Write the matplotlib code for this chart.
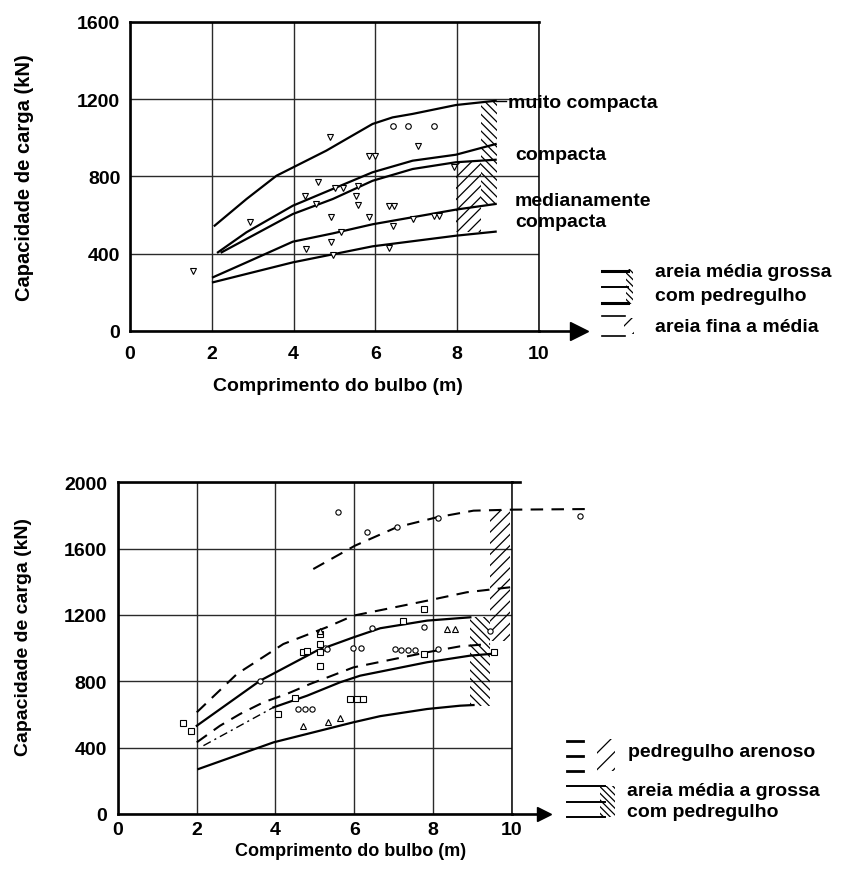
import matplotlib
matplotlib.use('Agg')
import matplotlib.pyplot as plt
from matplotlib.patches import Rectangle
from matplotlib.lines import Line2D
import numpy as np

plt.rcParams['font.family'] = ['Liberation Sans', 'DejaVu Sans']
plt.rcParams['font.weight'] = 'bold'
plt.rcParams['hatch.linewidth'] = 0.9
plt.rcParams['lines.scale_dashes'] = False

# ---------------- data: top chart ----------------
top_xticks = [0, 2, 4, 6, 8, 10]
top_yticks = [0, 400, 800, 1200, 1600]

muito_x = [2.07, 2.85, 3.58, 4.8, 5.29, 5.93, 6.42, 6.91, 7.97, 8.94]
muito_y = [545, 683, 803, 933, 993, 1071, 1105, 1123, 1169, 1191]
comp_x = [2.15, 2.85, 3.98, 4.96, 5.93, 6.91, 7.97, 8.94]
comp_y = [407, 511, 648, 735, 821, 881, 912, 967]
comp2_x = [2.24, 3.98, 4.96, 5.93, 6.91, 7.97, 8.94]
comp2_y = [407, 605, 683, 777, 838, 873, 886]
med_x = [2.03, 2.85, 3.98, 4.96, 5.93, 7.97, 8.94]
med_y = [278, 355, 462, 505, 552, 628, 657]
med2_x = [2.03, 3.98, 5.93, 7.97, 8.94]
med2_y = [252, 355, 438, 493, 514]

top_tri_x = [1.54, 2.93, 4.27, 4.31, 4.55, 4.59, 4.88, 4.92, 4.92, 4.96, 5.0, 5.2, 5.16,
             5.53, 5.57, 5.57, 5.85, 5.85, 6.0, 6.34, 6.34, 6.42, 6.46, 6.91, 7.03, 7.44, 7.56, 7.93]
top_tri_y = [312, 562, 700, 424, 657, 772, 1002, 588, 459, 393, 738, 738, 511,
             700, 752, 650, 588, 907, 907, 648, 428, 545, 648, 579, 959, 597, 597, 847]
top_circ_x = [6.42, 6.79, 7.44]
top_circ_y = [1062, 1062, 1062]

# hatched zones (x0, x1, y0, y1)
top_dense = (8.58, 8.98, 657, 1191)
top_sparse = (7.97, 8.58, 511, 873)

# ---------------- data: bottom chart ----------------
bot_xticks = [0, 2, 4, 6, 8, 10]
bot_yticks = [0, 400, 800, 1200, 1600, 2000]

F_x = [4.96, 6.02, 7.08, 8.1, 9.03, 10.0, 12.06]
F_y = [1477, 1618, 1729, 1789, 1829, 1835, 1839]
A_x = [2.0, 3.02, 4.2, 5.3, 5.98, 7.85, 8.86, 9.96]
A_y = [613, 844, 1025, 1126, 1196, 1286, 1337, 1367]
B_x = [2.0, 3.61, 5.05, 5.98, 6.66, 7.85, 8.95]
B_y = [532, 804, 985, 1065, 1120, 1166, 1186]
C_x = [2.0, 2.59, 3.1, 3.69, 4.29, 4.88, 5.39, 5.98, 7.85, 8.69, 9.45]
C_y = [432, 532, 603, 673, 724, 784, 830, 884, 975, 1011, 1025]
D_x = [2.17, 3.95, 4.8, 5.64, 6.15, 7.85, 8.95, 9.45]
D_y = [412, 643, 713, 794, 834, 915, 955, 965]
E_x = [2.04, 3.95, 5.98, 6.66, 7.85, 8.69, 9.03]
E_y = [271, 432, 553, 590, 633, 653, 657]

bot_circ_x = [3.61, 5.26, 5.98, 6.17, 6.45, 4.58, 4.75, 4.92, 5.6, 6.32, 7.08, 8.14, 11.74,
              7.76, 9.45, 7.04, 7.2, 7.37, 7.54, 8.14, 5.3]
bot_circ_y = [804, 999, 999, 999, 1120, 633, 633, 633, 1819, 1699, 1729, 1783, 1795,
              1126, 1105, 995, 991, 991, 991, 995, 995]
bot_sq_x = [1.66, 1.85, 5.13, 5.13, 5.13, 4.71, 5.13, 4.5, 4.07, 5.9, 6.07, 6.23, 7.76, 7.25,
            7.76, 9.54, 4.8]
bot_sq_y = [549, 502, 1085, 1025, 979, 979, 894, 698, 603, 693, 693, 693, 1236, 1166,
            965, 975, 985]
bot_tri_x = [5.13, 4.71, 5.34, 5.64, 8.35, 8.56]
bot_tri_y = [1105, 532, 557, 577, 1116, 1116]

bot_dense = (8.95, 9.45, 653, 1186)
bot_sparse = (9.45, 9.96, 1045, 1835)

# ---------------- figure ----------------
W, H = 847, 879
fig = plt.figure(figsize=(W / 100, H / 100), dpi=100)


def fx(px):
    return px / W


def fy(py):
    return 1 - py / H


def style(ax, xt, yt, xpad, ypad):
    ax.set_xlim(0, 10)
    ax.set_ylim(yt[0], yt[-1])
    ax.set_xticks(xt)
    ax.set_yticks(yt)
    ax.grid(True, color='#2a2a2a', lw=1.0)
    ax.set_axisbelow(True)
    for s in ['left', 'bottom', 'top']:
        ax.spines[s].set_linewidth(1.9)
    ax.spines['right'].set_linewidth(1.1)
    ax.tick_params(axis='x', length=0, labelsize=14, pad=xpad)
    ax.tick_params(axis='y', length=0, labelsize=14, pad=ypad)


def hatch_rect(ax, zone, hatch):
    x0, x1, y0, y1 = zone
    ax.add_patch(Rectangle((x0, y0), x1 - x0, y1 - y0, facecolor='none',
                           edgecolor='black', lw=0, hatch=hatch, zorder=3))


# ---- top chart ----
ax1 = fig.add_axes([fx(130), fy(332), (539 - 130) / W, (332 - 22.7) / H])
style(ax1, top_xticks, top_yticks, 10, 7)
hatch_rect(ax1, top_sparse, '///')
hatch_rect(ax1, top_dense, '\\\\\\\\')
for xs, ys in [(muito_x, muito_y), (comp_x, comp_y), (comp2_x, comp2_y),
               (med_x, med_y), (med2_x, med2_y)]:
    ax1.plot(xs, ys, color='black', lw=1.6, zorder=4)
ax1.plot([muito_x[-1], 9.2], [muito_y[-1], muito_y[-1]], color='black', lw=1.0, clip_on=False)
ax1.plot(top_tri_x, top_tri_y, 'v', ms=4, mfc='white', mec='black', mew=0.8,
         zorder=5, clip_on=False)
ax1.plot(top_circ_x, top_circ_y, 'o', ms=4, mfc='white', mec='black', mew=0.8, zorder=5)
ax1.plot([10, 10.8], [0, 0], color='black', lw=1.9, clip_on=False)
ax1.plot([10.97], [0], marker='>', ms=13, color='black', clip_on=False)

fig.text(fx(508), fy(104), 'muito compacta', fontsize=14, va='center', ha='left')
fig.text(fx(515), fy(155), 'compacta', fontsize=14, va='center', ha='left')
fig.text(fx(515), fy(201.5), 'medianamente', fontsize=14, va='center', ha='left')
fig.text(fx(515), fy(222.5), 'compacta', fontsize=14, va='center', ha='left')

# top legend
for yy, lw in [(271.7, 2.2), (288.3, 1.4), (304, 2.2)]:
    fig.add_artist(Line2D([fx(602), fx(628)], [fy(yy), fy(yy)], color='black', lw=lw))
fig.add_artist(Rectangle((fx(626), fy(305)), 7 / W, 35 / H, transform=fig.transFigure,
                         facecolor='none', edgecolor='black', lw=0, hatch='\\\\\\\\\\'))
for yy in [317.3, 336.7]:
    fig.add_artist(Line2D([fx(602), fx(625)], [fy(yy), fy(yy)], color='black', lw=1.2))
fig.add_artist(Rectangle((fx(624), fy(335)), 10 / W, 16 / H, transform=fig.transFigure,
                         facecolor='none', edgecolor='black', lw=0, hatch='//'))
fig.text(fx(655), fy(273), 'areia média grossa', fontsize=14, va='center', ha='left')
fig.text(fx(655), fy(297), 'com pedregulho', fontsize=14, va='center', ha='left')
fig.text(fx(655), fy(328), 'areia fina a média', fontsize=14, va='center', ha='left')

fig.text(fx(24), fy(178), 'Capacidade de carga (kN)', rotation=90, fontsize=14.5,
         ha='center', va='center')
fig.text(fx(338), fy(387), 'Comprimento do bulbo (m)', fontsize=14,
         ha='center', va='center')

# ---- bottom chart ----
ax2 = fig.add_axes([fx(118), fy(815), (511.7 - 118) / W, (815 - 483.3) / H])
style(ax2, bot_xticks, bot_yticks, 5, 8)
ax2.plot([10, 10.2], [2000, 2000], color='black', lw=1.9, clip_on=False)
hatch_rect(ax2, bot_sparse, '///')
hatch_rect(ax2, bot_dense, '\\\\\\\\')
dash = (0, (9, 6))
ax2.plot(F_x, F_y, color='black', lw=1.5, ls=dash, zorder=4, clip_on=False)
ax2.plot(A_x, A_y, color='black', lw=1.5, ls=dash, zorder=4)
ax2.plot(C_x, C_y, color='black', lw=1.5, ls=dash, zorder=4)
ax2.plot(B_x, B_y, color='black', lw=1.6, zorder=4)
ax2.plot(E_x, E_y, color='black', lw=1.6, zorder=4)
D_x_arr = np.array(D_x)
D_y_arr = np.array(D_y)
m1 = D_x_arr <= 3.95
m2 = D_x_arr >= 3.95
ax2.plot(D_x_arr[m1], D_y_arr[m1], color='black', lw=1.0, ls=(0, (6, 3, 1.5, 3)), zorder=4)
ax2.plot(D_x_arr[m2], D_y_arr[m2], color='black', lw=1.6, zorder=4)
ax2.plot(bot_circ_x, bot_circ_y, 'o', ms=3.8, mfc='white', mec='black', mew=0.8,
         zorder=5, clip_on=False)
ax2.plot(bot_sq_x, bot_sq_y, 's', ms=4, mfc='white', mec='black', mew=0.8,
         zorder=5, clip_on=False)
ax2.plot(bot_tri_x, bot_tri_y, '^', ms=4, mfc='white', mec='black', mew=0.8, zorder=5)
ax2.plot([10, 10.7], [0, 0], color='black', lw=1.9, clip_on=False)
ax2.plot([10.83], [0], marker='>', ms=10, color='black', clip_on=False)

# bottom legend
for yy in [741.7, 756.7, 771.7]:
    fig.add_artist(Line2D([fx(566.7), fx(583)], [fy(yy), fy(yy)], color='black', lw=2.0))
fig.add_artist(Rectangle((fx(597), fy(772)), 18 / W, 32 / H, transform=fig.transFigure,
                         facecolor='none', edgecolor='black', lw=0, hatch='//'))
fig.text(fx(628), fy(753), 'pedregulho arenoso', fontsize=14, va='center', ha='left')
for yy in [787, 803, 818]:
    fig.add_artist(Line2D([fx(567), fx(605)], [fy(yy), fy(yy)], color='black', lw=1.4))
fig.add_artist(Rectangle((fx(600), fy(818)), 15 / W, 31 / H, transform=fig.transFigure,
                         facecolor='none', edgecolor='black', lw=0, hatch='\\\\\\\\\\'))
fig.text(fx(627), fy(791.7), 'areia média a grossa', fontsize=14, va='center', ha='left')
fig.text(fx(627), fy(813), 'com pedregulho', fontsize=14, va='center', ha='left')

fig.text(fx(24), fy(637), 'Capacidade de carga (kN)', rotation=90, fontsize=14,
         ha='center', va='center')
fig.text(fx(351), fy(852), 'Comprimento do bulbo (m)', fontsize=13,
         ha='center', va='center')

fig.savefig('out.png', dpi=100, facecolor='white')
